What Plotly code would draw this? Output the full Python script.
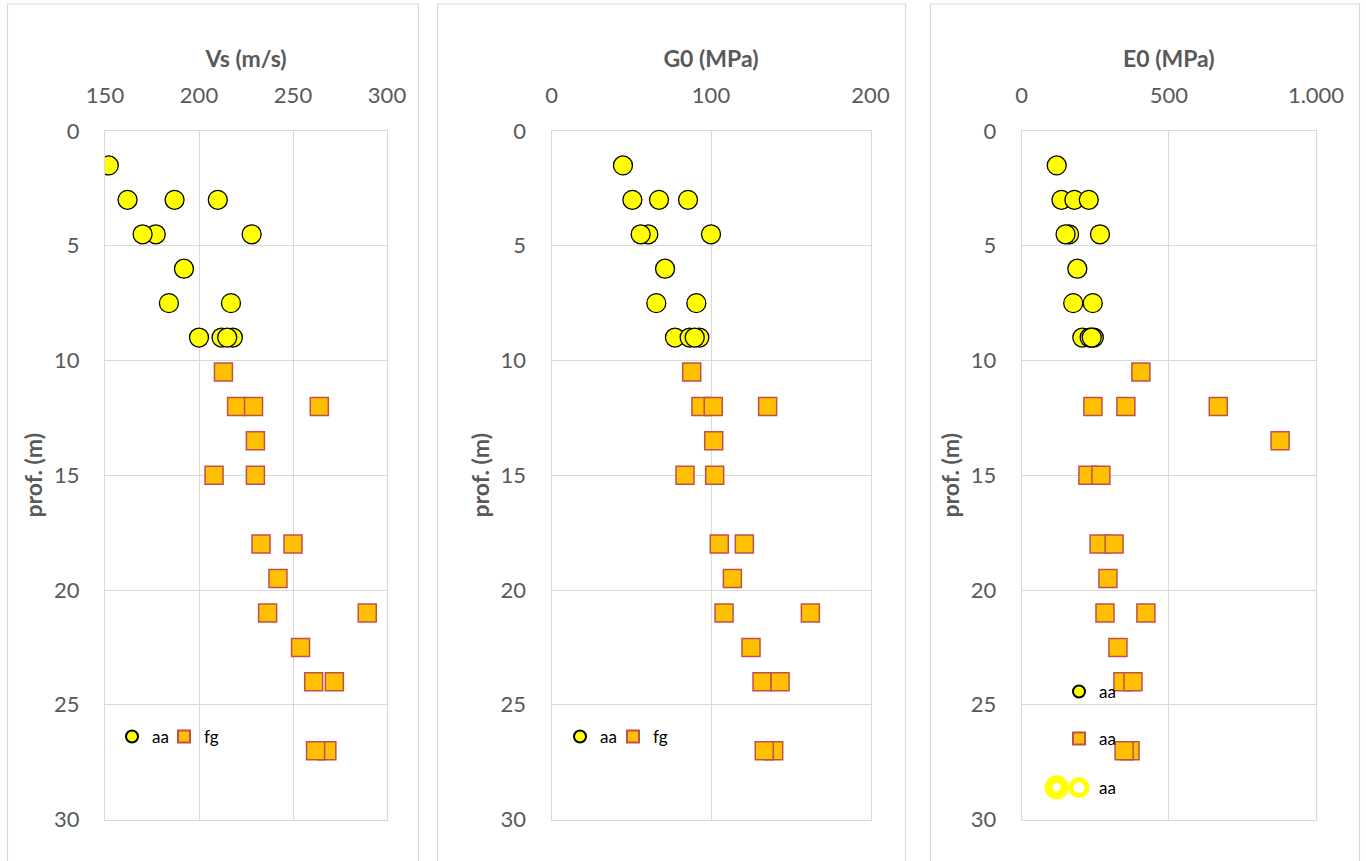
import plotly.graph_objects as go

# depths (m) of each sample group
depth_aa = [1.5, 3, 3, 3, 4.5, 4.5, 4.5, 6, 7.5, 7.5, 9, 9, 9, 9]
depth_fg = [10.5, 12, 12, 12, 13.5, 15, 15, 18, 18, 19.5, 21, 21, 22.5, 24, 24, 27, 27]

# shear wave velocity Vs (m/s)
vs_aa = [152, 162, 187, 210, 177, 170, 228, 192, 184, 217, 200, 212, 218, 215]
vs_fg = [213, 220, 229, 264, 230, 208, 230, 233, 250, 242, 236.5, 289.5, 254, 261, 272, 268, 262]

# small-strain shear modulus G0 (MPa)
g0_aa = [44.8, 50.7, 67.4, 85.6, 60.7, 55.9, 100, 71.2, 65.7, 90.8, 77.4, 86.6, 92.7, 89.8]
g0_fg = [87.9, 93.7, 101.4, 135.5, 101.7, 83.7, 102.3, 105.2, 120.9, 113.4, 108.2, 162.3,
         125.1, 132, 143.3, 139.3, 133.4]

# small-strain Young's modulus E0 (MPa)
e0_aa = [119, 135, 179, 228, 161, 149, 266, 189, 175, 241.5, 206, 231, 245, 238]
e0_fg = [405, 242, 354, 668, 878, 225, 269, 263, 314, 293, 283, 422, 327, 344, 378, 368, 348]
e0_extra = [119]
depth_extra = [28.6]

W, H = 1366, 861
YELLOW = "#FFFF00"
ORANGE = "#FFC000"
RED = "#C0504D"
GRID = "#D9D9D9"
TXT = "#595959"
FONT = "Lato, 'Open Sans', sans-serif"

# plot-area pixel extents for the three panels
panels = [
    dict(x0=105, x1=387, title="Vs (m/s)", rng=[150, 300], dtick=50, fmt=None),
    dict(x0=551.5, x1=870.5, title="G0 (MPa)", rng=[0, 200], dtick=100, fmt=None),
    dict(x0=1021.7, x1=1316, title="E0 (MPa)", rng=[0, 1000], dtick=500, fmt=",d"),
]
frames = [(7.5, 418.5), (437.5, 905.5), (930.5, 1359.5)]
PT, PB = 131, 819.5

fig = go.Figure()

circle = dict(symbol="circle", size=19, color=YELLOW, line=dict(color="#000000", width=1.3))
square = dict(symbol="square", size=18, color=ORANGE, line=dict(color=RED, width=1.5))
ring = dict(symbol="circle-open", size=16, color=YELLOW, line=dict(width=8))

# (x values, depths, marker, legend name, legend id) per panel
panel_traces = [
    [(vs_aa, depth_aa, circle, "aa", "legend"), (vs_fg, depth_fg, square, "fg", "legend2")],
    [(g0_aa, depth_aa, circle, "aa", "legend3"), (g0_fg, depth_fg, square, "fg", "legend4")],
    [(e0_aa, depth_aa, circle, "aa", "legend5"), (e0_fg, depth_fg, square, "aa", "legend6"),
     (e0_extra, depth_extra, ring, "aa", "legend7")],
]
for i, traces in enumerate(panel_traces):
    ax = "" if i == 0 else str(i + 1)
    for xs, ys, mk, nm, lg in traces:
        fig.add_trace(go.Scatter(x=xs, y=ys, mode="markers", marker=mk, name=nm,
                                 xaxis="x" + ax, yaxis="y" + ax, legend=lg))

layout = dict(
    width=W, height=H,
    margin=dict(l=0, r=0, t=0, b=0, autoexpand=False),
    paper_bgcolor="white", plot_bgcolor="white",
    separators=",.",
    font=dict(family=FONT, color=TXT, size=22),
    showlegend=True,
    shapes=[dict(type="rect", xref="paper", yref="paper",
                 x0=a / W, x1=b / W, y0=-0.2, y1=1 - 4 / H,
                 line=dict(color=GRID, width=1.2), fillcolor="rgba(0,0,0,0)", layer="below")
            for a, b in frames],
)

for i, p in enumerate(panels):
    ax = "" if i == 0 else str(i + 1)
    xa = dict(
        domain=[p["x0"] / W, p["x1"] / W], range=p["rng"], dtick=p["dtick"], side="top",
        anchor="y" + ax, showgrid=True, gridcolor=GRID, gridwidth=1.2, automargin=False,
        showline=True, mirror=True, linecolor=GRID, linewidth=1.2, zeroline=False,
        ticks="", ticklabelstandoff=18, tickfont=dict(size=22, color=TXT),
        title=dict(text=p["title"], font=dict(size=23, color=TXT, weight="bold"), standoff=7),
    )
    if p["fmt"]:
        xa["tickformat"] = p["fmt"]
    ya = dict(
        domain=[1 - PB / H, 1 - PT / H], range=[30, 0], dtick=5, anchor="x" + ax,
        showgrid=True, gridcolor=GRID, gridwidth=1.2, zeroline=False, automargin=False,
        showline=True, mirror=True, linecolor=GRID, linewidth=1.2,
        ticks="", ticklabelstandoff=20, tickfont=dict(size=22, color=TXT),
        title=dict(text="prof. (m)", font=dict(size=23, color=TXT, weight="bold"), standoff=4),
    )
    layout["xaxis" + ax] = xa
    layout["yaxis" + ax] = ya

leg_common = dict(orientation="h", bgcolor="rgba(0,0,0,0)", font=dict(size=17, color="#000000"),
                  itemsizing="constant", xanchor="left", yanchor="middle")
legend_pos = {
    "legend": (112, 737), "legend2": (164, 737),
    "legend3": (560, 737), "legend4": (613, 737),
    "legend5": (1059, 692), "legend6": (1059, 739), "legend7": (1059, 788),
}
for key, (lx, ly) in legend_pos.items():
    layout[key] = dict(leg_common, x=lx / W, y=1 - ly / H)
layout["legend7"]["itemsizing"] = "trace"

fig.update_layout(**layout)
fig.write_html("out.html")
